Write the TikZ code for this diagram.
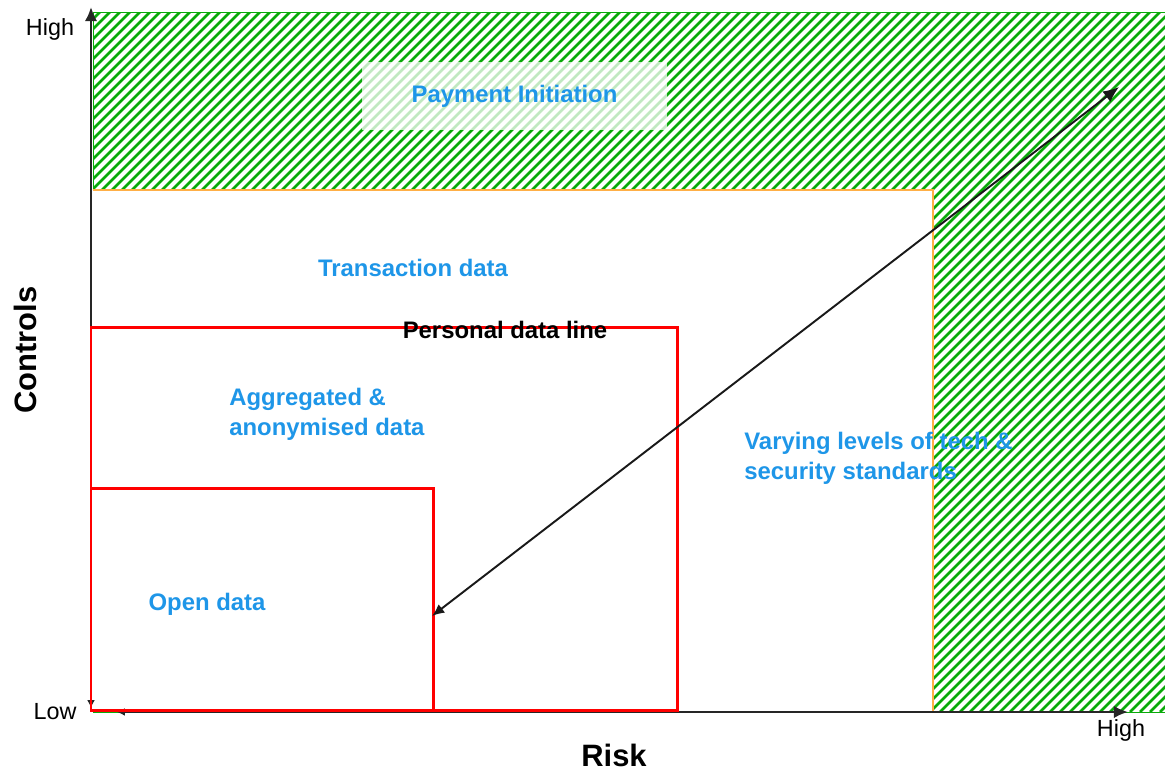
\documentclass[tikz,border=0pt]{standalone}
\usepackage{fontspec}
\setmainfont{Liberation Sans}
\usetikzlibrary{arrows.meta}

\definecolor{hatchgreen}{RGB}{10,170,10}
\definecolor{labelblue}{RGB}{30,150,232}
\definecolor{zoneorange}{RGB}{255,175,70}
\definecolor{datared}{RGB}{255,0,0}

\begin{document}
\begin{tikzpicture}[x=0.02cm,y=-0.02cm,
		zonetext/.style={text=labelblue,font=\bfseries\fontsize{13.6}{17}\selectfont,align=left,inner sep=0pt},
		ticktext/.style={font=\fontsize{13.3}{16}\selectfont,inner sep=0pt},
		axistext/.style={font=\bfseries\fontsize{17.6}{20}\selectfont,inner sep=0pt},
		databox/.style={draw=datared,line width=1.7pt},
		axisline/.style={black!85,line width=1.3pt},
	]
	\useasboundingbox (0,0) rectangle (1165,771);

	% Hatched zone
	\def\hatchleft{93}
	\def\hatchright{1165}
	\def\hatchtop{12}
	\def\hatchbot{712}
	\begin{scope}
		\clip (\hatchleft,\hatchtop) rectangle (\hatchright,\hatchbot);
		\foreach \x in {-620,-610,...,1170}
			\draw[hatchgreen,line width=1.5pt] (\x,\hatchbot) -- ++(700,-700);
	\end{scope}
	\draw[hatchgreen,line width=0.5pt] (\hatchleft,\hatchtop) rectangle (\hatchright,\hatchbot);

	% Transaction zone
	\fill[white] (\hatchleft,190) rectangle (933,\hatchbot);
	\draw[zoneorange,line width=0.8pt] (\hatchleft,190) -- (933,190) -- (933,\hatchbot);

	\node[fill=white,fill opacity=0.75,text opacity=1,minimum width=6.1cm,minimum height=1.36cm,
		text=labelblue,font=\bfseries\fontsize{13.6}{17}\selectfont] (payment) at (514.5,96) {Payment Initiation};

	% Axes
	\coordinate (ylow) at (91,708);
	\coordinate (ytop) at (91,7);
	\coordinate (xlow) at (117,712);
	\coordinate (xtop) at (1128,712);
	\draw[axisline,{Latex[length=4.5pt,width=4.5pt]}-{Latex[length=8pt,width=7pt]}] (ylow) -- (ytop);
	\draw[axisline,{Latex[length=4.5pt,width=4.5pt]}-{Latex[length=8pt,width=7pt]}] (xlow) -- (xtop);

	% Data boxes
	\draw[databox] (91,327) rectangle (677,710);
	\draw[databox] (91,488) rectangle (433,710);

	% Diagonal
	\coordinate (arrowlow) at (432,616);
	\coordinate (arrowtop) at (1119,87);
	\draw[black!90,line width=1.1pt,{Latex[length=7pt,width=6pt]}-{Latex[length=9pt,width=7.5pt]}] (arrowlow) -- (arrowtop);

	\node[ticktext] (highy) at (50,29) {High};
	\node[ticktext] (lowy) at (55,712) {Low};
	\node[ticktext] (highx) at (1121,730) {High};
	\node[axistext,rotate=90] (controls) at (25,350) {Controls};
	\node[axistext] (risk) at (614,755) {Risk};

	\node[zonetext] (transaction) at (413,268) {Transaction data};
	\node[font=\bfseries\fontsize{13.6}{17}\selectfont,inner sep=0pt] (personal) at (505,330) {Personal data line};
	\node[zonetext,anchor=west] (aggregated) at (229,414) {Aggregated \&\\anonymised data};
	\node[zonetext,anchor=west] (varying) at (744,458) {Varying levels of tech \&\\security standards};
	\node[zonetext] (opendata) at (207,604) {Open data};
\end{tikzpicture}
\end{document}
